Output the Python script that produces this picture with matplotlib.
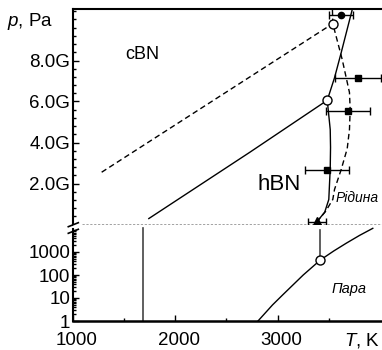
import numpy as np
import matplotlib
matplotlib.use('Agg')
import matplotlib.pyplot as plt
from matplotlib.lines import Line2D
from matplotlib.ticker import FixedLocator, FuncFormatter
from matplotlib.transforms import ScaledTranslation

plt.rcParams['font.family'] = ['Liberation Sans', 'DejaVu Sans']
plt.rcParams['mathtext.fontset'] = 'custom'
plt.rcParams['mathtext.it'] = 'Liberation Sans:italic'
plt.rcParams['mathtext.rm'] = 'Liberation Sans'

###### Data (T in K, p in Pa) ######
# cBN / hBN boundary (dashed, upper panel)
cbn_T = [1280, 3539]
cbn_p = np.array([2.55, 9.8]) * 1e9
# hBN / cBN boundary (solid)
hbn_T = [1741, 2727, 3485]
hbn_p = np.array([0.29, 3.52, 6.06]) * 1e9
# melting line, solid
melt1_T = [3380, 3460, 3500, 3514, 3517, 3514, 3485, 3556, 3621, 3735]
melt1_p = np.array([0.11, 0.6, 1.22, 2.73, 3.76, 4.63, 6.06, 7.16, 8.38, 10.6]) * 1e9
# melting line, dashed
melt2_T = [3380, 3470, 3539, 3556, 3621, 3680, 3702, 3709, 3702, 3631, 3539, 3535]
melt2_p = np.array([0.11, 0.65, 1.22, 1.71, 2.68, 3.7, 4.63, 5.61, 6.44, 8.05, 9.8, 10.6]) * 1e9
# triple points (open circles)
triple_T = [3485, 3539]
triple_p = np.array([6.06, 9.8]) * 1e9
# experimental points with error bars
exp_T = [3783, 3686, 3481]
exp_p = np.array([7.16, 5.56, 2.68]) * 1e9
exp_err = [227, 215, 215]
top_T, top_p, top_err = 3615, 10.2e9, 117
tri_T, tri_p, tri_err = 3380, 0.13e9, 88
# vapour curve (lower panel)
vap_T = [2808, 2950, 3052, 3250, 3417, 3550, 3670, 3800, 3930]
vap_p = [1, 5, 14, 100, 447, 1120, 2400, 5250, 10700]
vap_circle_T, vap_circle_p = 3417, 447
# vertical line in lower panel
vline_T = 1680
vline_p = [1.05, 1.1e4]

###### Figure ######
W, H = 382, 350
fig = plt.figure(figsize=(W / 100, H / 100), dpi=100)
x0, xr = 73, 382
y_top, y_mid, y_bot = 9, 224.5, 321
ax1 = fig.add_axes([x0 / W, 1 - y_mid / H, (xr - x0) / W, (y_mid - y_top) / H])
ax2 = fig.add_axes([x0 / W, 1 - y_bot / H, (xr - x0) / W, (y_bot - y_mid) / H], sharex=ax1)

xlim = (1000, 4020)
fs = 13.5
dash = (0, (4, 2.5))

# upper panel
ax1.plot(cbn_T, cbn_p, color='black', lw=1, linestyle=dash)
ax1.plot(hbn_T, hbn_p, color='black', lw=1)
ax1.plot(melt1_T, melt1_p, color='black', lw=1)
ax1.plot(melt2_T, melt2_p, color='black', lw=1, linestyle=dash)
ax1.errorbar(exp_T, exp_p, xerr=exp_err, fmt='s', color='black', ms=4,
             elinewidth=1, capsize=3, clip_on=False)
ax1.errorbar([top_T], [top_p], xerr=[top_err], fmt='o', color='black', ms=4.5,
             elinewidth=1, capsize=3)
ax1.errorbar([tri_T], [tri_p], xerr=[tri_err], fmt='^', color='black', ms=7,
             elinewidth=1, capsize=3, clip_on=False, zorder=5)
ax1.plot(triple_T, triple_p, 'o', mfc='white', mec='black', ms=6.5, mew=1, zorder=6)
ax1.axhline(0, xmin=0.03, color='#999999', lw=2, linestyle=(0, (0.8, 0.6)), clip_on=False)

ax1.set_xlim(*xlim)
ax1.set_ylim(0, (y_mid - y_top) / 20.5 * 1e9)
ax1.set_yticks([2e9, 4e9, 6e9, 8e9])
ax1.yaxis.set_minor_locator(FixedLocator(np.arange(0.4e9, 10.5e9, 0.4e9)))
ax1.yaxis.set_major_formatter(FuncFormatter(lambda v, pos: '%.1fG' % (v / 1e9)))
ax1.spines['right'].set_visible(False)
ax1.spines['bottom'].set_visible(False)
ax1.spines['top'].set_linewidth(1.5)
ax1.spines['left'].set_linewidth(1.5)
ax1.tick_params(axis='y', which='both', direction='in', labelsize=fs, pad=2, width=1)
ax1.tick_params(axis='y', which='major', length=4)
ax1.tick_params(axis='y', which='minor', length=2)
ax1.tick_params(axis='x', which='both', bottom=False, top=False, labelbottom=False)

ax1.text(1673, 8.3e9, 'cBN', fontsize=13, ha='center', va='center')
ax1.text(3020, 1.95e9, 'hBN', fontsize=16, ha='center', va='center')
ax1.text(3566, 1.27e9, 'Рідина', fontsize=10, style='italic', ha='left', va='center')

# lower panel
ax2.set_yscale('log')
ax2.plot(vap_T, vap_p, color='black', lw=1)
ax2.plot([vline_T, vline_T], vline_p, color='#444444', lw=1.2)
ax2.plot([vap_circle_T, vap_circle_T], [9000, vap_circle_p], color='#444444', lw=1.2)
ax2.plot([vap_circle_T], [vap_circle_p], 'o', mfc='white', mec='black', ms=6.5, mew=1, zorder=6)
ax2.text(3702, 25, 'Пара', fontsize=10.5, style='italic', ha='center', va='center')

ax2.set_ylim(1, 10 ** ((y_bot - y_mid) / 23.0))
ax2.set_yticks([1, 10, 100, 1000])
ax2.set_yticklabels(['1', '10', '100', '1000'])
ax2.yaxis.set_minor_locator(FixedLocator([k * 10 ** d for d in range(0, 4) for k in range(2, 10)]))
ax2.set_xticks([1000, 2000, 3000])
ax2.set_xticks([1500, 2500, 3500], minor=True)
ax2.set_xlim(*xlim)
ax2.spines['right'].set_visible(False)
ax2.spines['top'].set_visible(False)
ax2.spines['bottom'].set_linewidth(1.8)
ax2.spines['left'].set_linewidth(1.5)
ax2.spines['left'].set_bounds(1, 1e4)
ax2.tick_params(which='both', direction='in', labelsize=fs, width=1)
ax2.tick_params(which='major', length=4)
ax2.tick_params(which='minor', length=2)
ax2.tick_params(axis='y', pad=2)
ax2.tick_params(axis='x', pad=8)
shift = ScaledTranslation(4 / 100, 0, fig.dpi_scale_trans)
for lab in ax2.get_xticklabels():
    lab.set_transform(lab.get_transform() + shift)

# axis break marks
for yb in (224.7, 231.3):
    fig.add_artist(Line2D([68.3 / W, 78.3 / W], [1 - (yb + 2) / H, 1 - (yb - 2) / H],
                          color='black', lw=1.2))

# axis titles
fig.text(7 / W, 1 - 26 / H, r'$\it{p}$, Pa', fontsize=13.5, ha='left', va='baseline')
fig.text(380 / W, 1 - 345 / H, r'$\it{T}$, K', fontsize=13.5, ha='right', va='baseline')

plt.savefig('out.png', dpi=100)
